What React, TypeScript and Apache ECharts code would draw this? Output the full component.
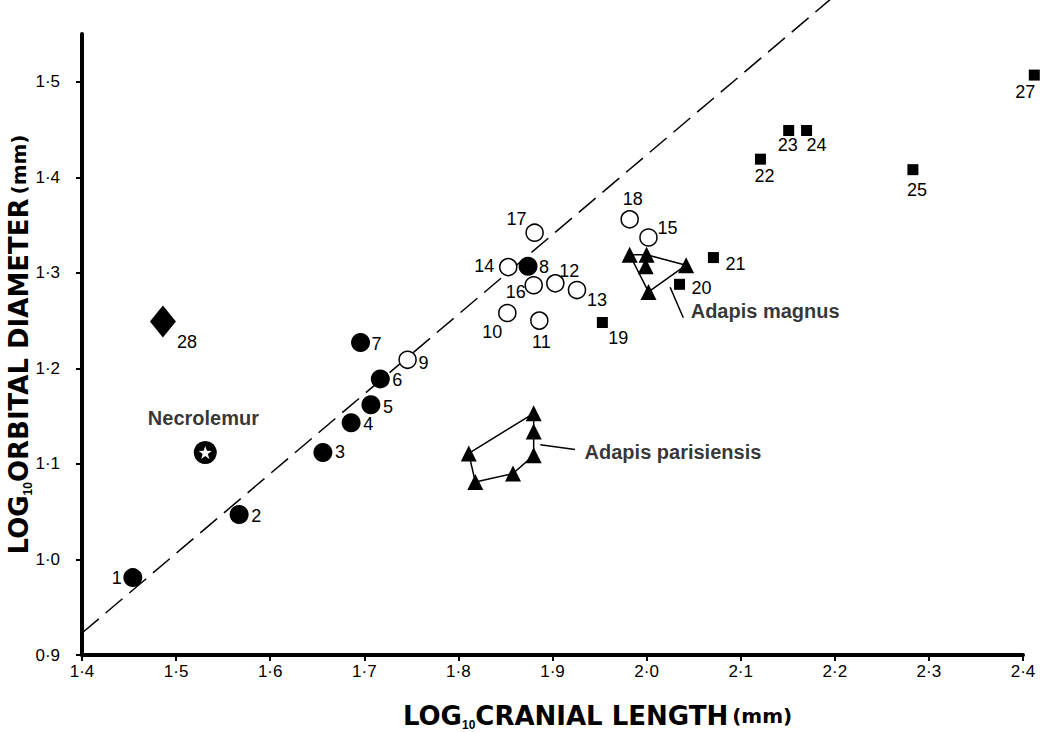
import React, { useEffect, useRef } from 'react';
import * as echarts from 'echarts';

const FONT = '"Liberation Sans", Arial, Helvetica, sans-serif';
const TITLE_FONT = '"DejaVu Sans", "Liberation Sans", Arial, sans-serif';

// Axis ticks
const xTicks = [1.4, 1.5, 1.6, 1.7, 1.8, 1.9, 2.0, 2.1, 2.2, 2.3, 2.4];
const yTicks = [0.9, 1.0, 1.1, 1.2, 1.3, 1.4, 1.5];

// [log cranial length, log orbital diameter, specimen number]
const filledCircles: [number, number, string][] = [
  [1.454, 0.981, '1'],
  [1.567, 1.047, '2'],
  [1.656, 1.112, '3'],
  [1.686, 1.143, '4'],
  [1.707, 1.162, '5'],
  [1.717, 1.189, '6'],
  [1.696, 1.227, '7'],
  [1.874, 1.307, '8'],
];

const openCircles: [number, number, string][] = [
  [1.746, 1.209, '9'],
  [1.852, 1.258, '10'],
  [1.886, 1.250, '11'],
  [1.903, 1.289, '12'],
  [1.926, 1.282, '13'],
  [1.853, 1.306, '14'],
  [2.002, 1.337, '15'],
  [1.880, 1.287, '16'],
  [1.881, 1.342, '17'],
  [1.982, 1.356, '18'],
];

const squares: [number, number, string][] = [
  [1.953, 1.248, '19'],
  [2.035, 1.288, '20'],
  [2.071, 1.316, '21'],
  [2.121, 1.419, '22'],
  [2.151, 1.449, '23'],
  [2.170, 1.449, '24'],
  [2.283, 1.408, '25'],
  [2.412, 1.507, '27'],
];

const diamondPoints: [number, number, string][] = [[1.486, 1.249, '28']];

const necrolemur: [number, number][] = [[1.531, 1.112]];

const adapisMagnus: [number, number][] = [
  [1.982, 1.319],
  [2.000, 1.319],
  [1.999, 1.307],
  [2.042, 1.308],
  [2.002, 1.280],
];
const adapisMagnusOutline = [0, 1, 3, 4, 0];

const adapisParisiensis: [number, number][] = [
  [1.811, 1.111],
  [1.818, 1.081],
  [1.858, 1.090],
  [1.880, 1.109],
  [1.880, 1.134],
  [1.880, 1.153],
];
const adapisParisiensisOutline = [0, 1, 2, 3, 4, 5, 0];

// Dashed reference line endpoints
const regressionLine: [number, number][] = [
  [1.4, 0.923],
  [2.195, 1.586],
];

// Leader lines for group names
const leaderLines: [number, number][][] = [
  [[2.025, 1.285], [2.039, 1.253]],
  [[1.887, 1.120], [1.924, 1.115]],
];

const annotationTexts = ['Necrolemur', 'Adapis magnus', 'Adapis parisiensis'];
const annotationAnchors: [number, number][] = [
  [1.529, 1.148],
  [2.126, 1.260],
  [2.028, 1.113],
];

// label offsets in pixels relative to marker centre
const labelOffsets: Record<string, [number, number]> = {
  '1': [-16, 0], '2': [17, 1], '3': [17, 0], '4': [17, 1], '5': [17, 2],
  '6': [17, 1], '7': [16, 1], '8': [16, 1], '9': [16, 3], '10': [-15, 19],
  '11': [2, 21], '12': [14, -12], '13': [20, 10], '14': [-24, -1], '15': [19, -9],
  '16': [-18, 7], '17': [-18, -14], '18': [3, -20], '19': [16, 15], '20': [22, 4],
  '21': [22, 6], '22': [4, 17], '23': [-1, 15], '24': [10, 15], '25': [4, 20],
  '27': [-9, 17], '28': [24, 20],
};

const STAR =
  'path://M0,-1 L0.235,-0.324 L0.951,-0.309 L0.380,0.124 L0.588,0.809 L0,0.4 L-0.588,0.809 L-0.380,0.124 L-0.951,-0.309 L-0.235,-0.324 Z';

const fmt = (v: number) => v.toFixed(1).replace('.', '\u00b7');

function labelled(points: [number, number, string][]) {
  return points.map(([x, y, id]) => ({
    value: [x, y],
    name: id,
    label: { offset: labelOffsets[id] || [0, 0] },
  }));
}

const numberLabel = {
  show: true,
  position: 'inside',
  formatter: (p: any) => p.name,
  color: '#000',
  fontSize: 18,
  fontFamily: FONT,
};

const titleRich = {
  a: { fontSize: 26, fontWeight: 'bold', fontFamily: TITLE_FONT, color: '#000', lineHeight: 30, verticalAlign: 'middle' },
  s: { fontSize: 12, fontWeight: 'bold', fontFamily: FONT, color: '#000', lineHeight: 30, verticalAlign: 'bottom' },
  m: { fontSize: 20, fontWeight: 'bold', fontFamily: TITLE_FONT, color: '#000', lineHeight: 30, verticalAlign: 'middle', padding: [0, 0, 0, 4] },
};

export default function App() {
  const ref = useRef<HTMLDivElement>(null);

  useEffect(() => {
    if (!ref.current) return;
    const chart = echarts.init(ref.current, null, { renderer: 'svg' });
    const axisCommon = {
      type: 'value',
      splitLine: { show: false },
      axisLine: { show: true, lineStyle: { color: '#000', width: 4 } },
      axisTick: { show: true, length: 6, lineStyle: { color: '#000', width: 2 } },
    };
    const option: any = {
      animation: false,
      backgroundColor: '#fff',
      grid: { left: 82, right: 24, top: 34, bottom: 77, containLabel: false, outerBoundsMode: 'none' },
      xAxis: {
        ...axisCommon,
        min: 1.4,
        max: 2.4,
        axisTick: { ...axisCommon.axisTick, customValues: xTicks },
        axisLabel: {
          customValues: xTicks,
          formatter: fmt,
          color: '#000',
          fontSize: 17,
          fontFamily: FONT,
          margin: 8,
        },
        name: '{a|LOG}{s|10}{a|CRANIAL LENGTH}{m|(mm)}',
        nameLocation: 'middle',
        nameGap: 46,
        nameTextStyle: {
          padding: [0, 0, 0, 90],
          rich: titleRich,
        },
      },
      yAxis: {
        ...axisCommon,
        min: 0.9,
        max: 1.55,
        axisTick: { ...axisCommon.axisTick, customValues: yTicks },
        axisLabel: {
          customValues: yTicks,
          formatter: fmt,
          color: '#000',
          fontSize: 17,
          fontFamily: FONT,
          margin: 22,
        },
        name: '{a|LOG}{s|10}{a|ORBITAL DIAMETER}{m|(mm)}',
        nameLocation: 'middle',
        nameGap: 48,
        nameMoveOverlap: false,
        nameRotate: 90,
        nameTextStyle: {
          padding: [0, 0, 0, 0],
          rich: titleRich,
        },
      },
      series: [
        {
          type: 'line',
          data: regressionLine,
          symbol: 'none',
          clip: false,
          silent: true,
          z: 1,
          lineStyle: { color: '#000', width: 1.5, type: [22, 9] },
        },
        {
          type: 'line',
          data: adapisMagnusOutline.map((i) => adapisMagnus[i]),
          symbol: 'none',
          silent: true,
          z: 2,
          lineStyle: { color: '#000', width: 1.5 },
        },
        {
          type: 'line',
          data: adapisParisiensisOutline.map((i) => adapisParisiensis[i]),
          symbol: 'none',
          silent: true,
          z: 2,
          lineStyle: { color: '#000', width: 1.5 },
        },
        {
          type: 'lines',
          coordinateSystem: 'cartesian2d',
          data: leaderLines.map((c) => ({ coords: c })),
          symbol: 'none',
          silent: true,
          z: 2,
          lineStyle: { color: '#000', width: 1.5, opacity: 1 },
        },
        {
          type: 'scatter',
          data: [...adapisMagnus, ...adapisParisiensis],
          symbol: 'triangle',
          symbolSize: 16,
          z: 3,
          itemStyle: { color: '#000', opacity: 1 },
        },
        {
          type: 'scatter',
          data: labelled(filledCircles),
          symbol: 'circle',
          symbolSize: 19,
          z: 4,
          itemStyle: { color: '#000', opacity: 1 },
          label: numberLabel,
        },
        {
          type: 'scatter',
          data: labelled(openCircles),
          symbol: 'circle',
          symbolSize: 17,
          z: 3,
          itemStyle: { color: '#fff', borderColor: '#000', borderWidth: 1.5, opacity: 1 },
          label: numberLabel,
        },
        {
          type: 'scatter',
          data: labelled(squares),
          symbol: 'rect',
          symbolSize: 11,
          clip: false,
          z: 3,
          itemStyle: { color: '#000', opacity: 1 },
          label: numberLabel,
        },
        {
          type: 'scatter',
          data: labelled(diamondPoints),
          symbol: 'diamond',
          symbolSize: [26, 32],
          z: 3,
          itemStyle: { color: '#000', opacity: 1 },
          label: numberLabel,
        },
        {
          type: 'scatter',
          data: necrolemur,
          symbol: 'circle',
          symbolSize: 23,
          z: 3,
          itemStyle: { color: '#000', opacity: 1 },
        },
        {
          type: 'scatter',
          data: necrolemur,
          symbol: STAR,
          symbolSize: 13,
          z: 4,
          itemStyle: { color: '#fff', opacity: 1 },
        },
        {
          type: 'scatter',
          data: annotationAnchors.map((a, i) => ({ value: a, name: annotationTexts[i] })),
          symbolSize: 0,
          z: 5,
          label: {
            show: true,
            position: 'inside',
            formatter: (p: any) => p.name,
            color: '#000',
            fontSize: 20,
            fontWeight: 'bold',
            fontFamily: FONT,
          },
        },
      ],
    };
    chart.setOption(option);
    return () => chart.dispose();
  }, []);

  return (
    <div
      ref={ref}
      style={{ position: 'fixed', left: 0, top: 0, width: 1047, height: 732, background: '#fff' }}
    />
  );
}
